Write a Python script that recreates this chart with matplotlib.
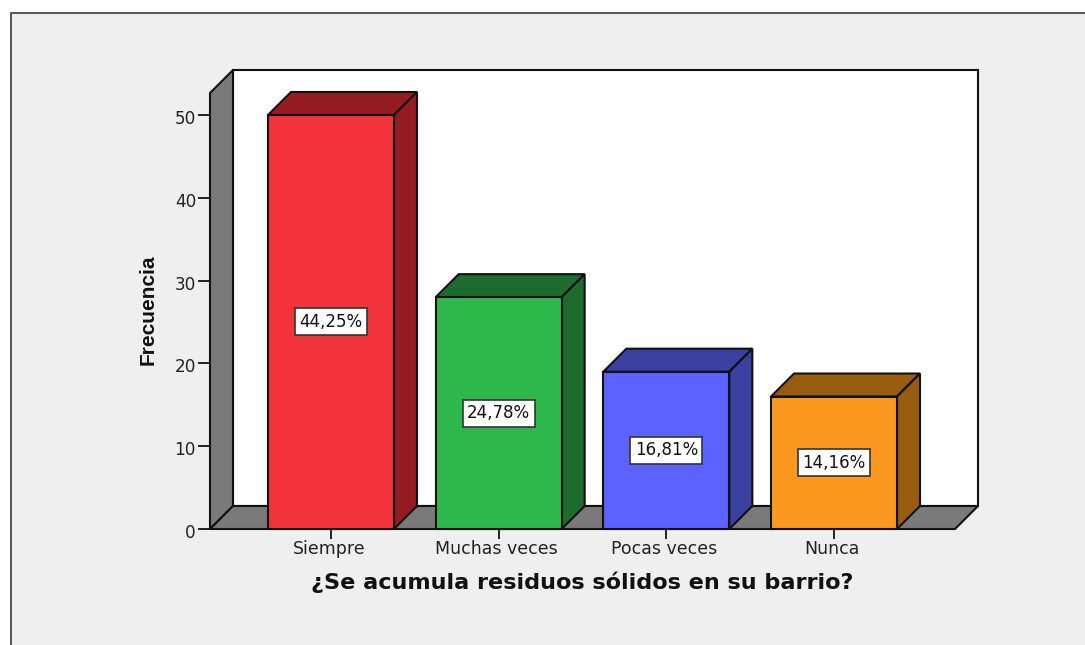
import matplotlib
matplotlib.use("Agg")
import matplotlib.pyplot as plt
from matplotlib.patches import Polygon, Rectangle
from matplotlib.lines import Line2D
from matplotlib.transforms import ScaledTranslation

categories = ["Siempre", "Muchas veces", "Pocas veces", "Nunca"]
frequencies = [50, 28, 19, 16]
pct_labels = ["44,25%", "24,78%", "16,81%", "14,16%"]
y_ticks = [0, 10, 20, 30, 40, 50]

FRONT_COLORS = ["#F2333B", "#2EB84C", "#5B62FF", "#FA981F"]
SIDE_COLORS = ["#951D22", "#1E6B2E", "#3A3FA0", "#985C0F"]
WALL = "#7A7A7A"
PANEL = "#EFEFEF"
W, H = 1085, 645

# axes box in pixels: front plane of the 3D frame
LEFT, RIGHT, BOTTOM, TOP = 210, 955, 529, 93
PX_PER_CAT = 167.67
PX_PER_VAL = 8.28
DEPTH = 23
BAR_W = 126 / PX_PER_CAT

fig = plt.figure(figsize=(W / 100, H / 100), dpi=100, facecolor="white")
fig.patches.append(Rectangle((10 / W, 0), 1, 1 - 12 / H, transform=fig.transFigure,
                             facecolor=PANEL, edgecolor="none", zorder=-2))
fig.lines.append(Line2D([10.5 / W, 10.5 / W, 1], [0, 1 - 12.5 / H, 1 - 12.5 / H],
                        transform=fig.transFigure, color="#555555", lw=1.4, zorder=-1))

ax = fig.add_axes([LEFT / W, 1 - BOTTOM / H, (RIGHT - LEFT) / W, (BOTTOM - TOP) / H])
ax.patch.set_visible(False)
xmin = -(331 - LEFT) / PX_PER_CAT
xmax = (RIGHT - 331) / PX_PER_CAT
ymax = (BOTTOM - TOP) / PX_PER_VAL
ax.set_xlim(xmin, xmax)
ax.set_ylim(0, ymax)
dx = DEPTH / PX_PER_CAT
dy = DEPTH / PX_PER_VAL


def face(points, color, z):
    ax.add_patch(Polygon(points, closed=True, facecolor=color, edgecolor="#111111",
                         lw=1.5, joinstyle="miter", clip_on=False, zorder=z))


# frame of the 3D box
face([(xmin + dx, dy), (xmax + dx, dy), (xmax + dx, ymax + dy), (xmin + dx, ymax + dy)], "white", 1)
face([(xmin, 0), (xmin + dx, dy), (xmin + dx, ymax + dy), (xmin, ymax)], WALL, 2)
face([(xmin, 0), (xmax, 0), (xmax + dx, dy), (xmin + dx, dy)], WALL, 2)

for i, val in enumerate(frequencies):
    l, r = i - BAR_W / 2, i + BAR_W / 2
    face([(l, val), (r, val), (r + dx, val + dy), (l + dx, val + dy)], SIDE_COLORS[i], 3)
    face([(r, 0), (r + dx, dy), (r + dx, val + dy), (r, val)], SIDE_COLORS[i], 3)
    face([(l, 0), (r, 0), (r, val), (l, val)], FRONT_COLORS[i], 4)
    ax.text(i, val / 2, pct_labels[i], ha="center", va="center", fontsize=12,
            family="DejaVu Sans", color="#111111", zorder=6,
            bbox=dict(boxstyle="square,pad=0.27", facecolor="white", edgecolor="#333333", lw=1.2))

for side in ax.spines.values():
    side.set_visible(False)
ax.set_xticks(range(len(categories)))
ax.set_xticklabels(categories, family="DejaVu Sans", fontsize=12.5, color="#222222")
ax.set_yticks(y_ticks)
ax.set_yticklabels([str(t) for t in y_ticks], family="DejaVu Sans", fontsize=12.2, color="#222222")
ax.tick_params(axis="x", length=7, width=1.4, color="#222222", pad=1)
ax.tick_params(axis="y", length=9, width=1.4, color="#222222", pad=1)

# labels sit slightly off their ticks in the reference
for lab in ax.get_xticklabels():
    lab.set_transform(lab.get_transform() + ScaledTranslation(-2 / 100, 0, fig.dpi_scale_trans))
for lab in ax.get_yticklabels():
    lab.set_transform(lab.get_transform() + ScaledTranslation(0, -2 / 100, fig.dpi_scale_trans))

fig.text(582 / W, 1 - 582 / H, "¿Se acumula residuos sólidos en su barrio?", ha="center", va="center",
         family="DejaVu Sans", fontweight="bold", fontsize=16.1, color="#111111")
fig.text(148 / W, 1 - 310 / H, "Frecuencia", rotation=90, ha="center", va="center",
         family="Liberation Sans", fontweight="bold", fontsize=15, color="#111111")

fig.savefig("out.png", dpi=100, facecolor=fig.get_facecolor())
